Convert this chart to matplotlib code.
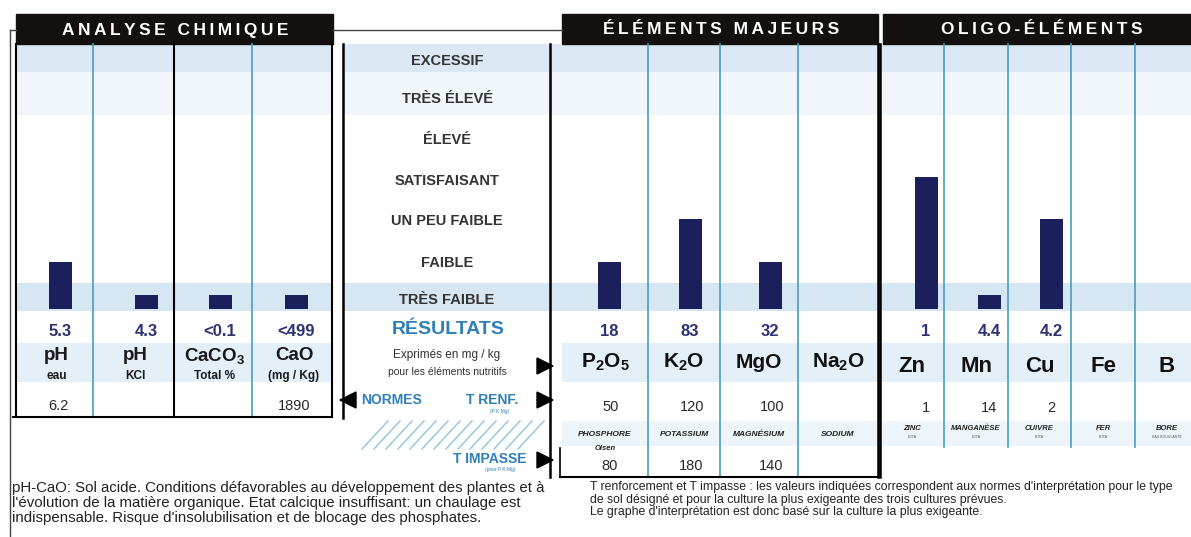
import matplotlib
matplotlib.use("Agg")
import matplotlib.pyplot as plt
from matplotlib.patches import Rectangle, Polygon

plt.rcParams['font.family'] = ['Liberation Sans', 'DejaVu Sans']
plt.rcParams['mathtext.fontset'] = 'custom'
plt.rcParams['mathtext.rm'] = 'Liberation Sans'
plt.rcParams['mathtext.bf'] = 'Liberation Sans:bold'
plt.rcParams['mathtext.it'] = 'Liberation Sans:italic'

levels = ['EXCESSIF', 'TRÈS ÉLEVÉ', 'ÉLEVÉ', 'SATISFAISANT', 'UN PEU FAIBLE', 'FAIBLE', 'TRÈS FAIBLE']

analyse_labels = ['pH', 'pH', r'$\mathbf{CaCO_3}$', 'CaO']
analyse_sub = ['eau', 'KCl', 'Total %', '(mg / Kg)']
analyse_values = ['5.3', '4.3', '<0.1', '<499']
analyse_levels = [1.12, 0.33, 0.33, 0.33]   # interpretation score (rows above base)
analyse_normes = ['6.2', '', '', '1890']

majeurs_labels = [r'$\mathbf{P_2O_5}$', r'$\mathbf{K_2O}$', 'MgO', r'$\mathbf{Na_2O}$']
majeurs_names = ['PHOSPHORE', 'POTASSIUM', 'MAGNÉSIUM', 'SODIUM']
majeurs_values = ['18', '83', '32', '']
majeurs_levels = [1.12, 2.14, 1.12, 0]
majeurs_renf = ['50', '120', '100', '']
majeurs_impasse = ['80', '180', '140', '']

oligo_labels = ['Zn', 'Mn', 'Cu', 'Fe', 'B']
oligo_names = ['ZINC', 'MANGANÈSE', 'CUIVRE', 'FER', 'BORE']
oligo_extract = ['EDTA', 'EDTA', 'EDTA', 'EDTA', 'EAU BOUILLANTE']
oligo_values = ['1', '4.4', '4.2', '', '']
oligo_levels = [3.14, 0.33, 2.14, 0, 0]
oligo_renf = ['1', '14', '2', '', '']

note_left = ["pH-CaO: Sol acide. Conditions défavorables au développement des plantes et à",
             "l'évolution de la matière organique. Etat calcique insuffisant: un chaulage est",
             "indispensable. Risque d'insolubilisation et de blocage des phosphates."]
note_right = ["T renforcement et T impasse : les valeurs indiquées correspondent aux normes d'interprétation pour le type",
              "de sol désigné et pour la culture la plus exigeante des trois cultures prévues.",
              "Le graphe d'interprétation est donc basé sur la culture la plus exigeante."]

### Layout (pixels)
W, H = 1191, 537
BASE = 309      # bar base
ROW = 42        # px per interpretation row
level_y = [61, 99, 140, 181, 221, 263, 300]
analyse_cols = [16, 93, 174, 252, 332]
majeurs_cols = [562, 648, 720, 798, 878]
oligo_cols = [880, 944, 1008, 1071, 1135, 1199]
analyse_bx = [60, 146, 220, 296]
majeurs_bx = [609, 690, 770, 838]
oligo_bx = [926, 989, 1051, 1103, 1167]
BAR_W = 23

NAVY = '#1b1f5c'
VAL = '#2e3172'
BLUE = '#2f7fb8'
LINEBLUE = '#4a9cc0'
DARK = '#2a2a2a'

fig = plt.figure(figsize=(W / 100, H / 100), dpi=100)
ax = fig.add_axes([0, 0, 1, 1])
ax.set_xlim(0, W)
ax.set_ylim(H, 0)
ax.axis('off')


def band(x0, x1, y0, y1, color):
    ax.add_patch(Rectangle((x0, y0), x1 - x0, y1 - y0, color=color, lw=0, zorder=0))


def spaced(s):
    return '\u2009'.join(s)


# background bands
for x0, x1 in [(16, 332), (343, 550), (550, 878), (880, W)]:
    band(x0, x1, 44, 72, '#dce9f5')
    band(x0, x1, 72, 115, '#f0f6fb')
    band(x0, x1, 283, 311, '#d6e6f2')
for x0, x1 in [(16, 332), (562, 878), (880, W)]:
    band(x0, x1, 343, 382, '#e4eff8')
for x0, x1 in [(562, 878), (880, W)]:
    band(x0, x1, 421, 446, '#edf4fa')

# headers
for x0, x1 in [(16, 333), (562, 878), (883, W)]:
    ax.add_patch(Rectangle((x0, 14), x1 - x0, 30, color='#141010', zorder=2))
ax.text(175, 30, spaced('ANALYSE CHIMIQUE'), color='white', fontsize=12.5, fontweight='bold',
        ha='center', va='center', zorder=3)
ax.text(721, 30, spaced('ÉLÉMENTS MAJEURS'), color='white', fontsize=12.5, fontweight='bold',
        ha='center', va='center', zorder=3)
ax.text(1042, 30, spaced('OLIGO-ÉLÉMENTS'), color='white', fontsize=12.5, fontweight='bold',
        ha='center', va='center', zorder=3)

# outer frame
ax.plot([10, 10], [30, H], color='#444', lw=1)
ax.plot([10, 16], [30, 30], color='#444', lw=1)
ax.plot([333, 562], [30, 30], color='#444', lw=1)


def vline(x, y0, y1, color, lw):
    ax.plot([x, x], [y0, y1], color=color, lw=lw, zorder=2)


vline(16, 44, 417, 'black', 1.5)
vline(332, 44, 417, 'black', 1.5)
vline(93, 44, 417, LINEBLUE, 1.2)
vline(174, 44, 417, 'black', 1.5)
vline(252, 44, 417, LINEBLUE, 1.2)
ax.plot([13, 332], [417, 417], color='black', lw=1.5)

vline(343, 44, 418, 'black', 1.8)
vline(550, 44, 477, 'black', 1.8)
vline(560, 448, 477, 'black', 1.2)
for x in majeurs_cols[1:-1]:
    vline(x, 44, 477, LINEBLUE, 1.2)
vline(878, 44, 477, 'black', 1.8)
ax.plot([560, 878], [477, 477], color='black', lw=1.5)

vline(880, 44, 477, 'black', 1.8)
for x in oligo_cols[1:-1]:
    vline(x, 44, 447, LINEBLUE, 1.2)

# interpretation scale
for lab, y in zip(levels, level_y):
    ax.text(447, y, lab, fontsize=10.5, fontweight='bold', color='#333333', ha='center', va='center')
ax.text(448, 329, 'RÉSULTATS', fontsize=14, fontweight='bold', color=BLUE,
        ha='center', va='center')
ax.text(447, 355, 'Exprimés en mg / kg', fontsize=8.5, color='#333', ha='center', va='center')
ax.text(447, 372, 'pour les éléments nutritifs', fontsize=7.5, color='#333', ha='center', va='center')
ax.text(392, 400, 'NORMES', fontsize=10, fontweight='bold', color=BLUE, ha='center', va='center')
ax.text(492, 400, 'T RENF.', fontsize=10, fontweight='bold', color=BLUE, ha='center', va='center')
ax.text(500, 411, '(P K Mg)', fontsize=3.5, color=BLUE, ha='center', va='center')
ax.text(490, 459, 'T IMPASSE', fontsize=10, fontweight='bold', color=BLUE, ha='center', va='center')
ax.text(500, 470, '(pour P K Mg)', fontsize=3.5, color=BLUE, ha='center', va='center')

# hatching
for x0 in range(362, 530, 12):
    ax.plot([x0, x0 + 26], [449, 421], color='#9cc7e0', lw=1.1)

# arrows
ax.add_patch(Polygon([(340, 400), (356, 392), (356, 408)], color='black', zorder=4))
for y in [366, 400, 460]:
    ax.add_patch(Polygon([(553, y), (537, y - 8), (537, y + 8)], color='black', zorder=4))


def draw_section(bx, lvls, values):
    heights = [-v * ROW for v in lvls]
    ax.bar(bx[:len(lvls)], heights, bottom=BASE, width=BAR_W, color=NAVY, zorder=3)
    for x, v in zip(bx, values):
        ax.text(x, 331, v, fontsize=12, fontweight='bold', color=VAL, ha='center', va='center')


# ANALYSE CHIMIQUE
draw_section(analyse_bx, analyse_levels, analyse_values)
a_cx = [(analyse_cols[i] + analyse_cols[i + 1]) / 2 for i in range(4)]
for cx, lab, sub in zip(a_cx, analyse_labels, analyse_sub):
    ax.text(cx + 2, 356, lab, fontsize=13.5, fontweight='bold', color='#1a1a1a', ha='center', va='center')
    ax.text(cx + 2, 376, sub, fontsize=8.5, fontweight='bold', color='#1a1a1a', ha='center', va='center')
for x, v in zip(analyse_bx, analyse_normes):
    ax.text(x - 2, 406, v, fontsize=10.5, color=DARK, ha='center', va='center')

# ÉLÉMENTS MAJEURS
draw_section(majeurs_bx, majeurs_levels[:3], majeurs_values)
m_cx = [(majeurs_cols[i] + majeurs_cols[i + 1]) / 2 for i in range(4)]
for cx, lab, name in zip(m_cx, majeurs_labels, majeurs_names):
    ax.text(cx, 362, lab, fontsize=15, fontweight='bold', color='#111', ha='center', va='center')
    ax.text(cx, 434, name, fontsize=6, fontweight='bold', style='italic', color='#222',
            ha='center', va='center')
ax.text(m_cx[0], 449, 'Olsen', fontsize=5.5, fontweight='bold', style='italic', color='#222',
        ha='center', va='center')
for x, r, i in zip(majeurs_bx, majeurs_renf, majeurs_impasse):
    ax.text(x + 2, 407, r, fontsize=10.5, color=DARK, ha='center', va='center')
    ax.text(x + 1, 466, i, fontsize=10.5, color=DARK, ha='center', va='center')

# OLIGO-ÉLÉMENTS
draw_section(oligo_bx, oligo_levels[:3], oligo_values)
o_cx = [(oligo_cols[i] + oligo_cols[i + 1]) / 2 for i in range(5)]
for cx, lab, name, ext in zip(o_cx, oligo_labels, oligo_names, oligo_extract):
    ax.text(cx, 366, lab, fontsize=16, fontweight='bold', color='#111', ha='center', va='center')
    ax.text(cx, 428, name, fontsize=5.5, fontweight='bold', style='italic', color='#222',
            ha='center', va='center')
    ax.text(cx, 437, ext, fontsize=2.5, color='#555', ha='center', va='center')
for x, r in zip(oligo_bx, oligo_renf):
    ax.text(x, 408, r, fontsize=10.5, color=DARK, ha='center', va='center')

# notes
for i, line in enumerate(note_left):
    ax.text(12, 488 + i * 15, line, fontsize=10.8, color='#222', ha='left', va='center')
for i, line in enumerate(note_right):
    ax.text(590, 487 + i * 12.5, line, fontsize=8.8, color='#222', ha='left', va='center')

fig.savefig('out.png', dpi=100)
